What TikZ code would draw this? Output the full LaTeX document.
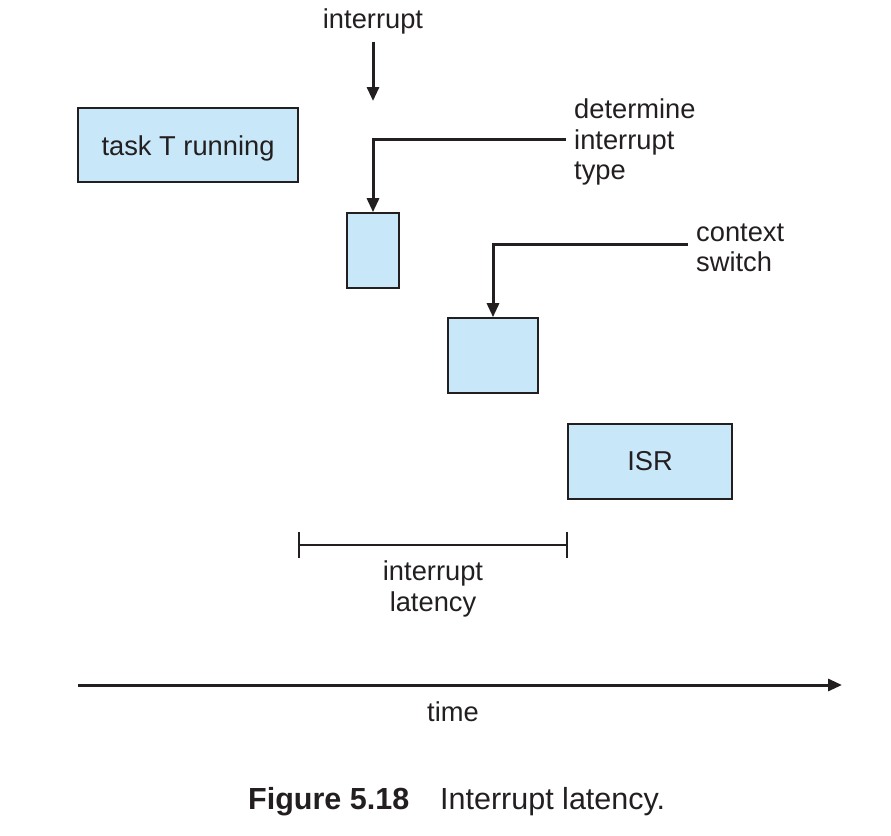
\documentclass[tikz,border=0pt]{standalone}
\usepackage{fontspec}
\setmainfont{Liberation Sans}
\usetikzlibrary{arrows.meta}
\definecolor{boxblue}{RGB}{200,232,249}
\definecolor{ink}{RGB}{35,31,32}
\begin{document}
\begin{tikzpicture}[x=1pt,y=-1pt,
  lbl/.style={inner sep=0pt,text=ink,font=\fontsize{27.3}{30.5}\selectfont},
  box/.style={draw=ink,line width=1.6pt,fill=boxblue,inner sep=0pt,text=ink,font=\fontsize{27.3}{30.5}\selectfont},
  arr/.style={draw=ink,line width=3pt,-{Triangle[length=14pt,width=12pt]}},
  brk/.style={draw=ink,line width=1.6pt,{Bar[width=26pt,line width=1.6pt]}-{Bar[width=26pt,line width=1.6pt]}}]
\useasboundingbox (0,0) rectangle (891,835);
% boxes
\node[box,minimum width=220pt,minimum height=74pt,text height=23pt,text depth=2pt] (task) at (188,145) {task T running};
\node[box,minimum width=52pt,minimum height=75pt] (small) at (373,250.5) {};
\node[box,minimum width=90pt,minimum height=75pt] (mid) at (493,355.5) {};
\node[box,minimum width=164pt,minimum height=75pt] (isr) at (650,461.5) {ISR};
% interrupt arrow
\node[lbl] (intr) at (373,21) {interrupt};
\coordinate (a1) at (373,101);
\draw[arr] ([yshift=-8pt]intr.south) -- (a1);
% determine interrupt type
\node[lbl,align=left,anchor=west] (det) at (574,142) {determine\\interrupt\\type};
\draw[arr] ([xshift=-8pt,yshift=2.5pt]det.west) -| (small.north);
% context switch
\node[lbl,align=left,anchor=west] (ctx) at (696,248) {context\\switch};
\draw[arr] ([xshift=-8pt,yshift=4pt]ctx.west) -| (mid.north);
% latency bracket
\coordinate (l1) at (298,545);
\coordinate (l2) at (568,545);
\draw[brk] (l1) -- (l2);
\node[lbl,align=center] (lat) at (433,589) {interrupt\\latency};
% time axis
\coordinate (t1) at (78,685);
\coordinate (t2) at (842,685);
\draw[arr] (t1) -- (t2);
\node[lbl] (time) at (453,712) {time};
% caption
\node[inner sep=0pt,text=ink,anchor=west,font=\fontsize{30.5}{34}\selectfont\bfseries] (fig) at (248,802) {Figure 5.18};
\node[inner sep=0pt,text=ink,anchor=west,font=\fontsize{30.5}{34}\selectfont] (cap) at (440,802) {Interrupt latency.};
\end{tikzpicture}
\end{document}
